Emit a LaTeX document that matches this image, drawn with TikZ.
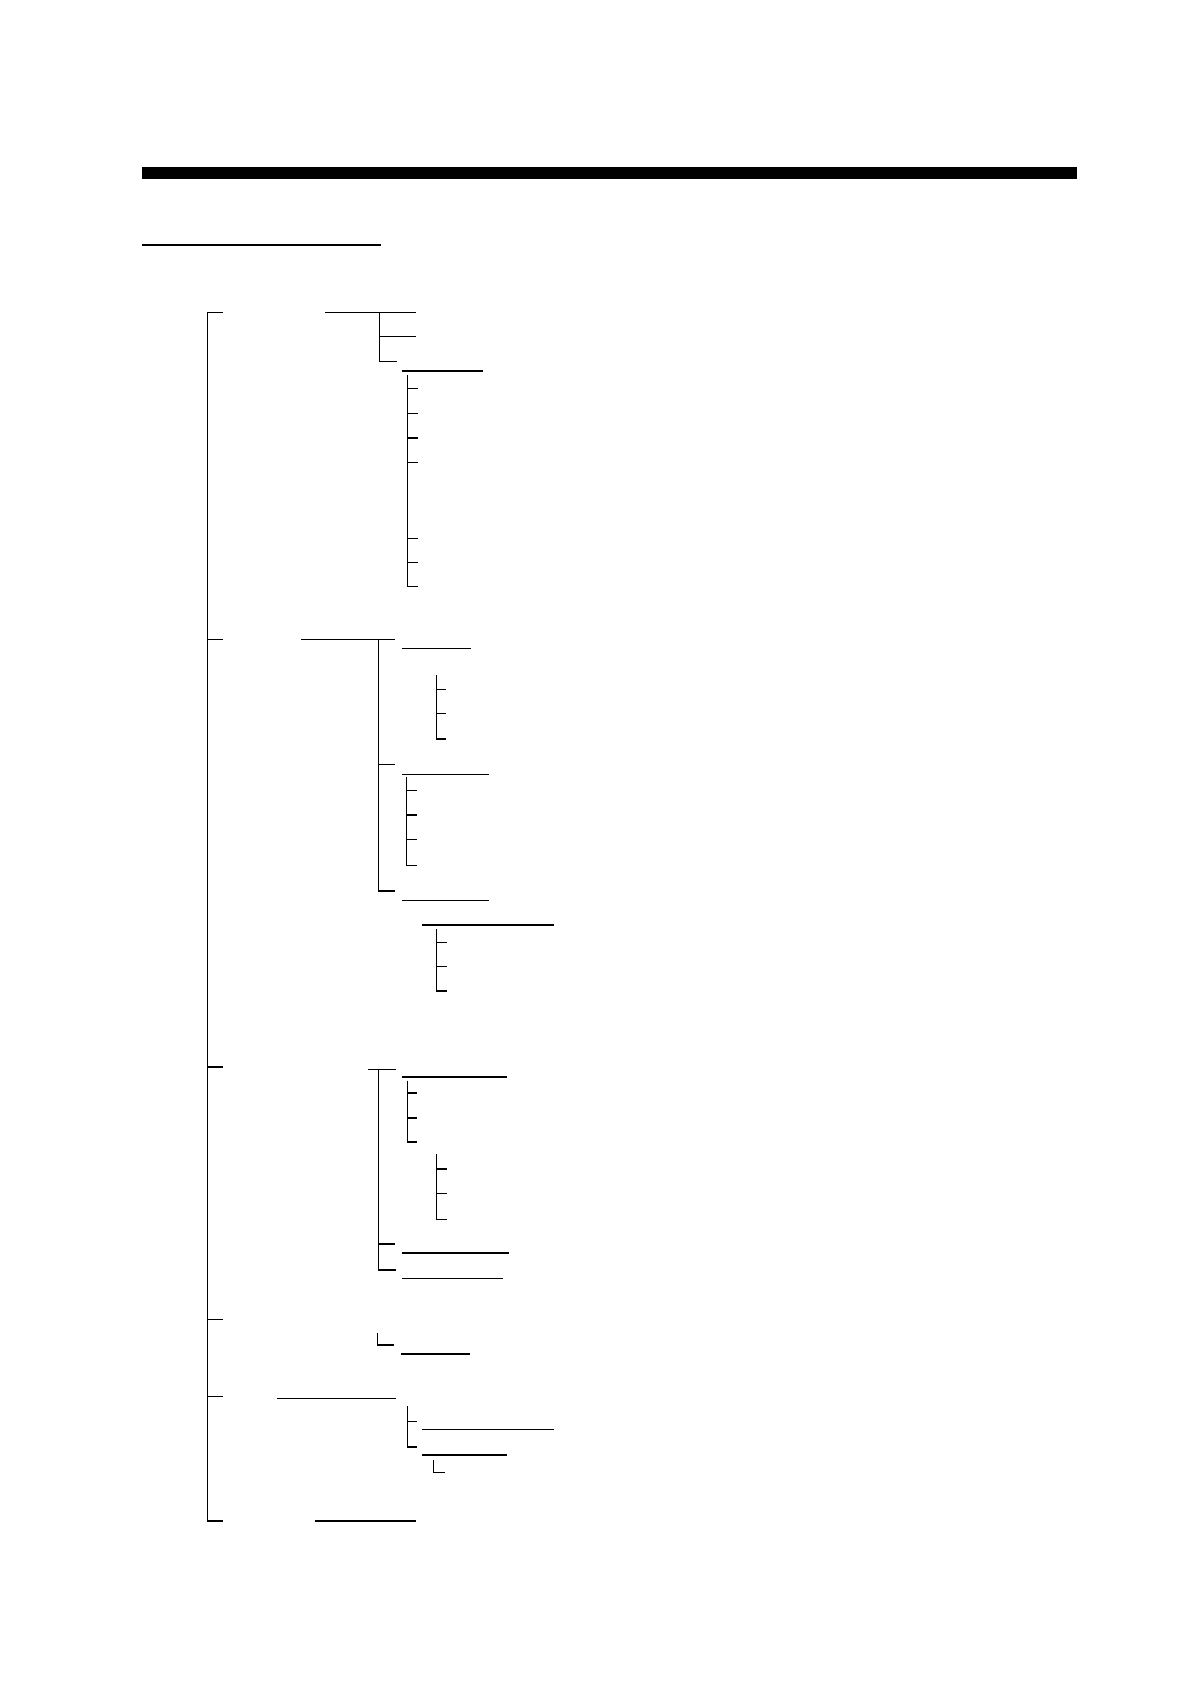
\documentclass[tikz,border=0pt]{standalone}
\usepackage{tikz}

\begin{document}
\begin{tikzpicture}[x=1pt,y=-1pt,line width=1.2pt,
  heavy/.style={line width=2.2pt}]
  \useasboundingbox (0,0) rectangle (1190,1684);
  % Header bar and rule
  \fill (142,166.5) rectangle (1077,178.5);
  \draw[line width=2pt] (142,245) -- (381,245);
  % Main trunk
  \draw (207.3,312.3) -- (207.3,1521) -- (222.5,1521);
  \foreach \y in {312.3,639.3,1067,1319.3,1396.3}
    \draw (207.3,\y) -- (222.5,\y);
  % Branch 1
  \draw (325,312.3) -- (416,312.3);
  \draw (379.3,312.3) -- (379.3,361.3) -- (396.7,361.3);
  \draw (379.3,336.3) -- (416,336.3);
  \draw (401.7,371) -- (483.3,371);
  \draw (407.3,375.3) -- (407.3,586.7) -- (417.7,586.7);
  \foreach \y in {388.3,413.3,438,462.3,538.3,562.7}
    \draw (407.3,\y) -- (417.7,\y);
  % Branch 2
  \draw (301,639.3) -- (394.7,639.3);
  \draw (378.7,639.3) -- (378.7,891) -- (395,891);
  \draw (378.7,764.3) -- (395,764.3);
  \draw (401.7,648.3) -- (471,648.3);
  \draw (436.3,675) -- (436.3,739) -- (446,739);
  \foreach \y in {689.3,713.3}
    \draw (436.3,\y) -- (446,\y);
  \draw (401.7,774.3) -- (489,774.3);
  \draw (406.7,777.3) -- (406.7,865.3) -- (417,865.3);
  \foreach \y in {790.3,815,839.3}
    \draw (406.7,\y) -- (417,\y);
  \draw (401.7,900.3) -- (489,900.3);
  \draw (422.3,925) -- (554.3,925);
  \draw (436.3,929.3) -- (436.3,991) -- (446.7,991);
  \foreach \y in {942.3,966.3}
    \draw (436.3,\y) -- (446.7,\y);
  % Branch 3
  \draw (368.3,1069.3) -- (396,1069.3);
  \draw (378.7,1069.3) -- (378.7,1270) -- (396,1270);
  \draw (378.7,1244) -- (394.7,1244);
  \draw[heavy] (401.7,1076.7) -- (506.7,1076.7);
  \draw (407.3,1080.7) -- (407.3,1142) -- (417,1142);
  \foreach \y in {1093,1118}
    \draw (407.3,\y) -- (417,\y);
  \draw (436.3,1154) -- (436.3,1219.3) -- (446.7,1219.3);
  \foreach \y in {1169,1193.3}
    \draw (436.3,\y) -- (446.7,\y);
  \draw (401.7,1253) -- (509,1253);
  \draw (401.7,1278.3) -- (503.3,1278.3);
  % Branch 4
  \draw (377.3,1333.3) -- (377.3,1345) -- (393.7,1345);
  \draw[heavy] (401.3,1353.7) -- (470,1353.7);
  % Branch 5
  \draw (277,1398.3) -- (396,1398.3);
  \draw (407.3,1406) -- (407.3,1447) -- (417,1447);
  \draw (407.3,1421.3) -- (417,1421.3);
  \draw (422.3,1429.3) -- (554.3,1429.3);
  \draw[heavy] (422.3,1455) -- (506.7,1455);
  \draw (433.3,1460.3) -- (433.3,1472.3) -- (445,1472.3);
  % Branch 6
  \draw (315,1521) -- (416,1521);
\end{tikzpicture}
\end{document}
